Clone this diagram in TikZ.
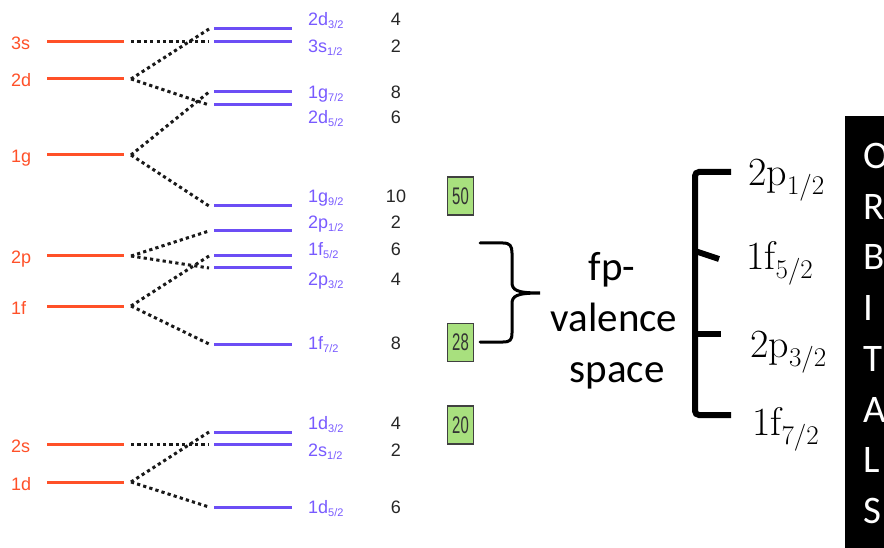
\documentclass[tikz,border=0pt]{standalone}
\usepackage{fontspec}
\newfontfamily\arial{Liberation Sans}
\newfontfamily\calib{Carlito}
\definecolor{lvlred}{RGB}{255,80,40}
\definecolor{lvlblue}{RGB}{108,78,245}
\definecolor{labblue}{RGB}{120,90,255}
\definecolor{magicgreen}{RGB}{168,224,126}

% small lowered index for the sans level labels
\newcommand\lvlsub[1]{\raisebox{-3pt}{\fontsize{11}{11}\selectfont #1}}
% lowered index for the serif orbital labels
\newcommand\orbsub[1]{\raisebox{-9pt}{\fontsize{27}{27}\selectfont #1}}
% condensed digits inside the magic-number boxes
\newcommand\magicnum[1]{\scalebox{0.62}[1]{\arial\fontsize{24}{24}\selectfont #1}}

% one spin-orbit level: name, line y, label y, label, index, degeneracy
\newcommand\bluelevel[6]{%
  \coordinate (#1) at (209,#2);
  \coordinate (#1L) at (214,#2);
  \coordinate (#1R) at (292,#2);
  \draw[bluelvl] (#1L) -- (#1R);
  \node[bluelab] (#1lab) at (308,#3+6) {#4\lvlsub{#5}};
  \node[deglab] (#1deg) at (396,#3+6) {#6};
}

\begin{document}
\begin{tikzpicture}[x=1pt,y=-1pt,
  redlvl/.style={draw=lvlred, line width=3pt},
  bluelvl/.style={draw=lvlblue, line width=3pt},
  split/.style={draw=black!90, line width=3pt, dash pattern=on 3.2pt off 3.2pt},
  redlab/.style={anchor=base west, inner sep=0pt, text=lvlred, font=\arial\fontsize{18}{18}\selectfont},
  bluelab/.style={anchor=base west, inner sep=0pt, text=labblue, font=\arial\fontsize{18}{18}\selectfont},
  deglab/.style={anchor=base, inner sep=0pt, text=black!85, font=\arial\fontsize{18}{18}\selectfont},
  magic/.style={draw=black!75, line width=1.5pt, fill=magicgreen, minimum width=26pt, minimum height=38pt, inner sep=0pt, text=black!80},
  brace/.style={draw=black, line width=3pt, line cap=round},
  bracket/.style={draw=black, line width=6pt},
  valtext/.style={anchor=base, inner sep=0pt, font=\calib\fontsize{41}{41}\selectfont},
  orb/.style={anchor=base west, inner sep=0pt, font=\fontsize{40}{40}\selectfont},
  orbletter/.style={anchor=base west, inner sep=0pt, text=white, font=\calib\fontsize{39}{39}\selectfont}
]
\useasboundingbox (0,0) rectangle (884,548);

% harmonic-oscillator (l) levels
\foreach \n/\y in {3s/42, 2d/79, 1g/155, 2p/256, 1f/306, 2s/444, 1d/482} {
  \coordinate (r\n L) at (47,\y);
  \coordinate (r\n R) at (124,\y);
  \coordinate (r\n) at (131,\y);
  \draw[redlvl] (r\n L) -- (r\n R);
  \node[redlab] (rl\n) at (11,\y+8) {\n};
}

% spin-orbit split levels
\bluelevel{d32a}{29}{20}{2d}{3/2}{4}
\bluelevel{s12a}{42}{47}{3s}{1/2}{2}
\bluelevel{g72}{92}{93}{1g}{7/2}{8}
\bluelevel{d52a}{105}{118}{2d}{5/2}{6}
\bluelevel{g92}{206}{197}{1g}{9/2}{10}
\bluelevel{p12}{231}{223}{2p}{1/2}{2}
\bluelevel{f52}{256}{250}{1f}{5/2}{6}
\bluelevel{p32}{268}{280}{2p}{3/2}{4}
\bluelevel{f72}{344}{343}{1f}{7/2}{8}
\bluelevel{d32b}{432}{423}{1d}{3/2}{4}
\bluelevel{s12b}{444}{450}{2s}{1/2}{2}
\bluelevel{d52b}{507}{507}{1d}{5/2}{6}

% splitting connectors
\draw[split] (r3s) -- (s12a);
\draw[split] (r2d) -- (d32a);
\draw[split] (r2d) -- (d52a);
\draw[split] (r1g) -- (g72);
\draw[split] (r1g) -- (g92);
\draw[split] (r2p) -- (p12);
\draw[split] (r2p) -- (p32);
\draw[split] (r1f) -- (f52);
\draw[split] (r1f) -- (f72);
\draw[split] (r2s) -- (s12b);
\draw[split] (r1d) -- (d32b);
\draw[split] (r1d) -- (d52b);

% magic numbers
\node[magic] (m50) at (460.5,196) {\magicnum{50}};
\node[magic] (m28) at (460.5,342.5) {\magicnum{28}};
\node[magic] (m20) at (460.5,425) {\magicnum{20}};

% curly brace over the fp shell
\draw[brace] (480,243) -- (503,243) .. controls (510,243) and (512,246) .. (512,253)
  -- (512,282) .. controls (512,290) and (516,293) .. (540,293)
  .. controls (516,293) and (512,296) .. (512,304)
  -- (512,333) .. controls (512,340) and (510,342) .. (503,342) -- (480,342);

\node[valtext] (fp) at (612,280) {fp-};
\node[valtext] (val) at (614,331) {valence};
\node[valtext] (spc) at (617,382) {space};

% bracket listing the valence orbitals
\draw[bracket, rounded corners=4pt] (731,172) -- (695,172) -- (695,415) -- (731,415);
\draw[bracket] (695,251) -- (719,259);
\draw[bracket] (695,334) -- (721,334);

\node[orb] (o1) at (748,186) {2p\orbsub{1/2}};
\node[orb] (o2) at (746,270) {1f\orbsub{5/2}};
\node[orb] (o3) at (750,357) {2p\orbsub{3/2}};
\node[orb] (o4) at (752,435) {1f\orbsub{7/2}};

% vertical title bar
\fill[black] (845,116) rectangle (884,548);
\foreach \l [count=\i] in {O,R,B,I,T,A,L,S} {
  \node[orbletter] (t\i) at (863,168.5+50.7*\i-50.7) {\l};
}
\end{tikzpicture}
\end{document}
